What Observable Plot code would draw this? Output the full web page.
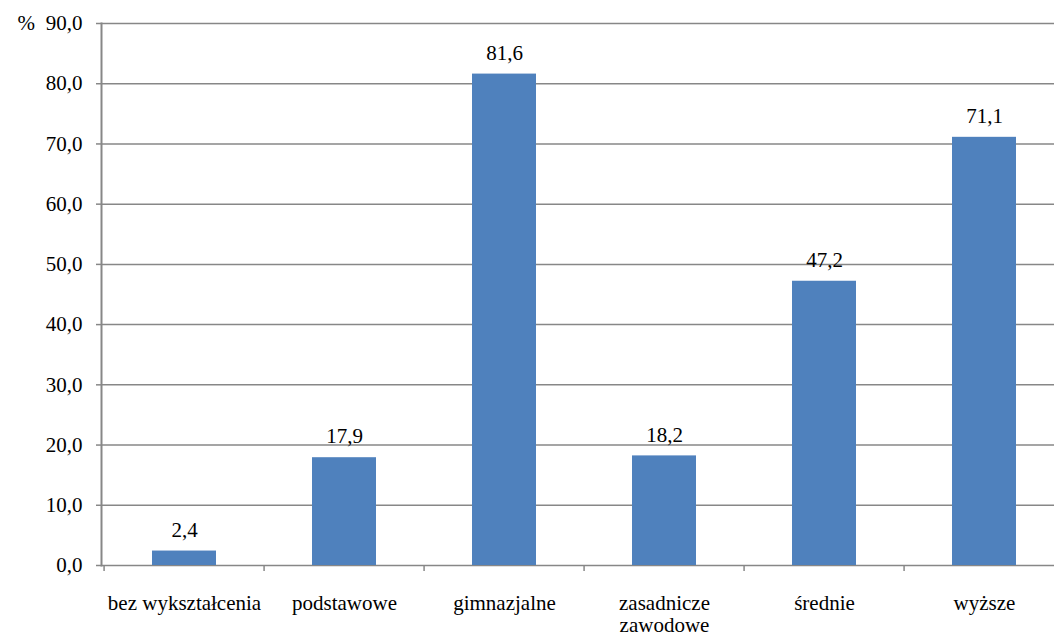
<!DOCTYPE html>
<html><head><meta charset="utf-8">
<script src="https://cdn.jsdelivr.net/npm/d3@7"></script>
<script src="https://cdn.jsdelivr.net/npm/@observablehq/plot@0.6"></script>
<style>
body{margin:0;background:#fff}
svg, svg text { font-family: 'Liberation Serif', 'Times New Roman', serif !important; }
</style>
</head><body><div id="chart"></div>
<script>
const categories = ["bez wykształcenia", "podstawowe", "gimnazjalne", "zasadnicze\nzawodowe", "średnie", "wyższe"];
const values = [2.4, 17.9, 81.6, 18.2, 47.2, 71.1];
const yTicks = [0, 10, 20, 30, 40, 50, 60, 70, 80, 90];
const unitLabel = "%";

const data = categories.map((c, i) => ({category: c, value: values[i]}));
const fmt = v => v.toFixed(1).replace(".", ",");
const xRange = [101.5, 1066.5];
const step = (xRange[1] - xRange[0]) / categories.length;
const gray = "#878787";
const ff = "Liberation Serif";

const chart = Plot.plot({
  width: 1054, height: 633,
  marginLeft: 101, marginRight: 0, marginTop: 23, marginBottom: 68,
  style: {fontSize: "21px", background: "#fff", color: "#000", overflow: "visible"},
  x: {domain: categories, range: xRange, paddingInner: 0.6, paddingOuter: 0.3, axis: null, label: null},
  y: {domain: [0, 90], axis: null, label: null},
  marks: [
    Plot.ruleY(yTicks, {stroke: gray, strokeWidth: 1.5}),
    Plot.barY(data, {x: "category", y: "value", fill: "#4F81BD"}),
    Plot.text(data, {x: "category", y: "value", text: d => fmt(d.value), dy: -21, fill: "#000", fontSize: 21, fontFamily: ff}),
    Plot.axisY(yTicks, {tickSize: 5, tickPadding: 14, tickFormat: fmt, stroke: gray, strokeWidth: 1.5, fill: "#000", fontSize: 21, fontFamily: ff, label: null}),
    Plot.axisX({tickSize: 0, tickPadding: 29, tickFormat: d => d, lineHeight: 1.04, fill: "#000", fontSize: 21, fontFamily: ff, label: null}),
    Plot.ruleX(categories, {x: d => d, y1: 0, y2: 0, insetBottom: -6, dx: -step / 2, stroke: gray, strokeWidth: 1.5}),
    Plot.frame({anchor: "left", stroke: gray, strokeWidth: 2}),
    Plot.text([unitLabel], {frameAnchor: "top-left", lineAnchor: "middle", text: d => d, dx: -84, fill: "#000", fontSize: 21, fontFamily: ff})
  ]
});
document.getElementById("chart").appendChild(chart);
</script>
</body></html>
